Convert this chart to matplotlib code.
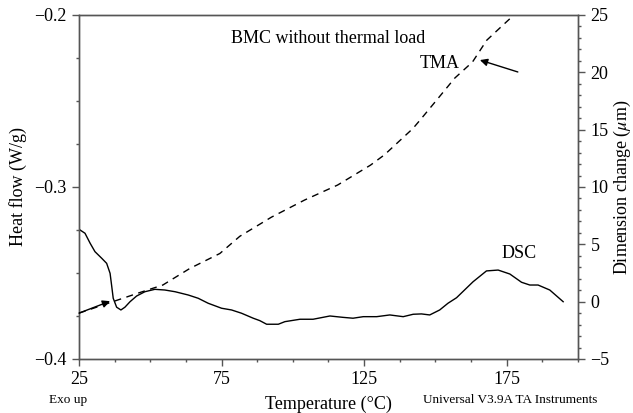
import matplotlib
matplotlib.use("Agg")
import matplotlib.pyplot as plt
from matplotlib.ticker import MultipleLocator

plt.rcParams['font.family'] = ['Liberation Serif', 'DejaVu Serif']
plt.rcParams['mathtext.fontset'] = 'stix'

# DSC heat flow (W/g) vs temperature
dsc_temp = [25.0, 27.1, 28.9, 30.6, 33.0, 34.7, 35.9, 36.5, 37.0, 38.2, 39.7, 41.1,
            42.9, 45.2, 48.1, 51.6, 55.1, 58.7, 63.3, 66.8, 70.3, 75.0, 78.5, 82.0,
            86.1, 88.4, 90.8, 94.9, 97.2, 102.5, 107.1, 113.0, 117.6, 121.1, 124.7,
            129.4, 134.0, 138.7, 142.2, 145.1, 148.0, 151.5, 154.4, 157.4, 163.2,
            167.9, 172.0, 176.1, 180.2, 183.1, 186.0, 190.1, 194.8]
dsc_flow = [-0.3246, -0.3269, -0.3327, -0.3376, -0.3415, -0.3444, -0.3502, -0.3580,
            -0.3647, -0.3699, -0.3715, -0.3699, -0.3667, -0.3634, -0.3609, -0.3595,
            -0.3599, -0.3609, -0.3628, -0.3647, -0.3676, -0.3705, -0.3715, -0.3734,
            -0.3763, -0.3777, -0.3798, -0.3798, -0.3783, -0.3769, -0.3769, -0.3750,
            -0.3758, -0.3763, -0.3754, -0.3754, -0.3744, -0.3754, -0.3740, -0.3738,
            -0.3744, -0.3715, -0.3676, -0.3644, -0.3551, -0.3488, -0.3483, -0.3506,
            -0.3554, -0.3570, -0.3570, -0.3599, -0.3667]

# TMA dimension change (um) vs temperature
tma_temp = [25.0, 36.9, 46.4, 54.4, 63.9, 74.4, 81.4, 92.5, 104.1, 115.7, 127.2,
            132.1, 142.1, 144.5, 150.5, 156.8, 163.0, 168.0, 173.6, 177.1]
tma_dim = [-1.0, 0.0, 0.8, 1.45, 2.9, 4.2, 5.7, 7.37, 8.86, 10.17, 11.9,
           12.8, 15.1, 15.8, 17.6, 19.5, 20.9, 22.8, 24.1, 24.9]

x_ticks = [25, 75, 125, 175]
left_ticks = [-0.4, -0.3, -0.2]
right_ticks = [-5, 0, 5, 10, 15, 20, 25]

fig = plt.figure(figsize=(6.33, 4.13), dpi=100)
ax = fig.add_axes([0.1248, 0.1308, 0.7883, 0.8329])
ax2 = ax.twinx()

spine_col = '#555555'
ax.plot(dsc_temp, dsc_flow, color='black', lw=1.0, zorder=3)
ax2.plot(tma_temp, tma_dim, color='black', lw=1.0, linestyle=(0, (5, 4)), zorder=3)

ax.set_xlim(25, 200)
ax.set_ylim(-0.4, -0.2)
ax2.set_ylim(-5, 25)
ax.set_xticks(x_ticks)
ax.set_yticks(left_ticks)
ax.set_yticklabels(['\u22120.4', '\u22120.3', '\u22120.2'])
ax2.set_yticks(right_ticks)
ax2.set_yticklabels(['\u22125', '0', '5', '10', '15', '20', '25'])
ax.xaxis.set_minor_locator(MultipleLocator(12.5))
ax.yaxis.set_minor_locator(MultipleLocator(0.025))
ax2.yaxis.set_minor_locator(MultipleLocator(1))

for a in (ax, ax2):
    for s in a.spines.values():
        s.set_color(spine_col)
        s.set_linewidth(1.0)
    a.tick_params(which='major', direction='out', length=5, width=1.0,
                  color=spine_col, labelsize=13, pad=4)
    a.tick_params(which='minor', direction='out', length=2.5, width=1.0,
                  color=spine_col)

ax.set_ylabel('Heat flow (W/g)', fontsize=13)
ax.yaxis.set_label_coords(-0.104, 0.5)
fig.text(622.5 / 633, 0.5472, 'Dimension change ($\\mu$m)', rotation=90,
         ha='center', va='center', fontsize=13)
ax.set_xlabel('Temperature (\u00b0C)', fontsize=13, labelpad=5)

ax.text(0.499, 0.933, 'BMC without thermal load', transform=ax.transAxes,
        ha='center', va='center', fontsize=13)
ax2.text(158.5, 20.8, 'TMA', ha='right', va='center', fontsize=13)
ax.text(179.4, -0.3384, 'DSC', ha='center', va='center', fontsize=13)

ax2.annotate('', xy=(165.6, 21.07), xytext=(178.9, 20.03),
             arrowprops=dict(arrowstyle='-|>', color='black', lw=1.0,
                             mutation_scale=11, shrinkA=0, shrinkB=0))
ax2.annotate('', xy=(35.9, 0.04), xytext=(25.0, -1.0),
             arrowprops=dict(arrowstyle='-|>', color='black', lw=1.0,
                             mutation_scale=11, shrinkA=0, shrinkB=0))

fig.text(68 / 633, 1 - 400 / 413, 'Exo up', ha='center', va='center', fontsize=9.5)
fig.text(510 / 633, 1 - 400 / 413, 'Universal V3.9A TA Instruments',
         ha='center', va='center', fontsize=9.5)

fig.savefig('out.png', dpi=100)
